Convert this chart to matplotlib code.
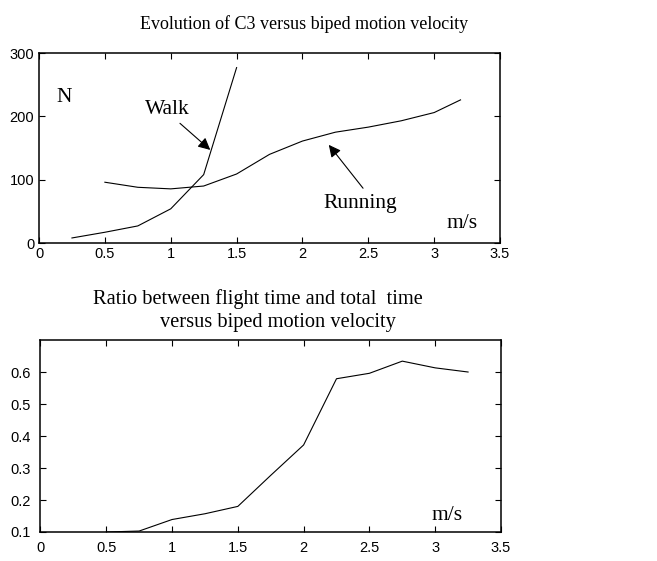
import matplotlib

matplotlib.use("Agg")
import matplotlib.pyplot as plt


# top panel: C3 (N) against velocity (m/s)
walk_v = [0.25, 0.5, 0.75, 1.0, 1.25, 1.5]
walk_c3 = [8, 17, 27, 54, 108, 277]

run_v = [0.5, 0.75, 1.0, 1.25, 1.5, 1.75, 2.0, 2.25, 2.5, 2.75, 3.0, 3.2]
run_c3 = [96, 88, 85.5, 90, 109, 140, 161, 175, 183, 193, 206, 226]

# bottom panel: flight time / total time
ratio_v = [0.5, 0.75, 1.0, 1.25, 1.5, 1.75, 2.0, 2.25, 2.5, 2.75, 3.0, 3.25]
ratio = [0.100, 0.103, 0.139, 0.157, 0.180, 0.277, 0.372, 0.579, 0.596, 0.634, 0.613, 0.600]

x_ticks = [0, 0.5, 1, 1.5, 2, 2.5, 3, 3.5]
x_labels = ["0", "0.5", "1", "1.5", "2", "2.5", "3", "3.5"]
top_y_ticks = [0, 100, 200, 300]
bottom_y_ticks = [0.1, 0.2, 0.3, 0.4, 0.5, 0.6]

SERIF = "Liberation Serif"
SANS = "Liberation Sans"


def style_axes(ax, xpad, ypad):
    for spine in ax.spines.values():
        spine.set_linewidth(1.1)
    ax.tick_params(direction="in", top=True, right=True, length=4, width=0.8,
                   labelsize=10.5)
    ax.tick_params(axis="x", pad=xpad)
    ax.tick_params(axis="y", pad=ypad)
    ax.set_xlim(0, 3.5)
    ax.set_xticks(x_ticks)
    ax.set_xticklabels(x_labels, family=SANS)
    for lab in ax.get_yticklabels():
        lab.set_family(SANS)


fig = plt.figure(figsize=(6.57, 5.61), dpi=100)

ax1 = fig.add_axes([0.0594, 0.5668, 0.7017, 0.3387])
ax1.plot(walk_v, walk_c3, color="black", lw=0.8)
ax1.plot(run_v, run_c3, color="black", lw=0.8)
ax1.set_ylim(0, 300)
ax1.set_yticks(top_y_ticks)
ax1.set_yticklabels([str(t) for t in top_y_ticks])
style_axes(ax1, 3.0, 3.5)

txt = dict(family=SERIF, fontsize=15.5, ha="center", va="baseline")
ax1.text(0.19, 223, "N", **txt)
ax1.text(3.21, 23.6, "m/s", **txt)
arrow = dict(arrowstyle="-|>", color="black", lw=0.8, mutation_scale=18,
             shrinkA=0, shrinkB=0)
ax1.annotate("", xy=(1.30, 147), xytext=(1.07, 189), arrowprops=arrow)
ax1.annotate("", xy=(2.20, 155), xytext=(2.46, 86.5), arrowprops=arrow)
ax1.text(0.975, 203.5, "Walk", **txt)
ax1.text(2.44, 55, "Running", **txt)

ax2 = fig.add_axes([0.0616, 0.0517, 0.7009, 0.3422])
ax2.plot(ratio_v, ratio, color="black", lw=0.8)
ax2.set_ylim(0.1, 0.7)
ax2.set_yticks(bottom_y_ticks)
ax2.set_yticklabels([f"{t:.1f}" for t in bottom_y_ticks])
style_axes(ax2, 6.5, 7)
ax2.text(3.09, 0.1375, "m/s", **txt)

fig.text(0.4635, 0.948, "Evolution of C3 versus biped motion velocity",
         family=SERIF, fontsize=13, ha="center", va="baseline")
fig.text(0.3927, 0.458, "Ratio between flight time and total  time",
         family=SERIF, fontsize=14.7, ha="center", va="baseline")
fig.text(0.4224, 0.417, "versus biped motion velocity",
         family=SERIF, fontsize=14.7, ha="center", va="baseline")

fig.savefig("out.png", dpi=100)
